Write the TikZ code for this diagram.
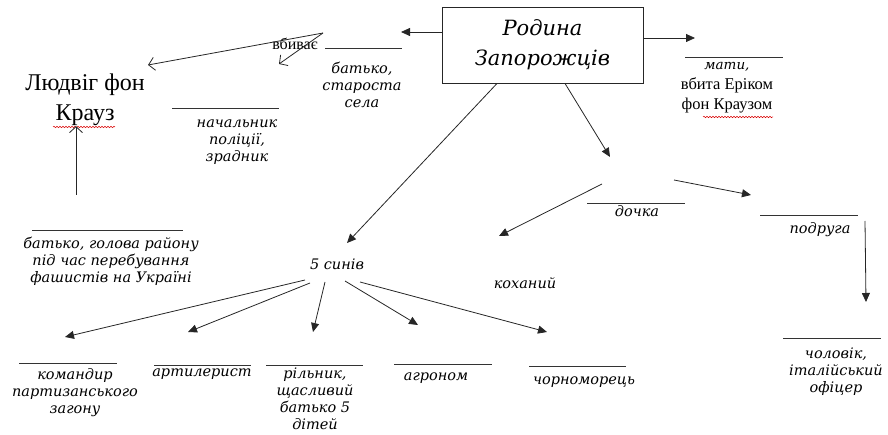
\documentclass[tikz,border=0pt]{standalone}
\usepackage{fontspec}
\setmainfont{Liberation Serif}
\newfontfamily\itfont{DejaVu Serif}[UprightFont=* Italic]
\usetikzlibrary{arrows.meta,decorations.pathmorphing}
\begin{document}
\begin{tikzpicture}[x=1pt,y=-1pt,
  conn/.style={draw=black!85,line width=0.8pt},
  tri/.style={conn,-{Triangle[length=9pt,width=8pt]}},
  barb/.style={conn,-{Straight Barb[length=6pt,width=13pt,line width=0.8pt]}},
  rule/.style={draw=black!80,line width=0.9pt},
  lab/.style={align=center,inner sep=0pt,font=\itfont\fontsize{14.5}{17}\selectfont},
  rom/.style={align=center,inner sep=0pt,font=\fontsize{16.5}{20}\selectfont},
  spell/.style={draw=red!85!black,line width=0.5pt,decorate,decoration={snake,amplitude=0.7pt,segment length=3pt}}]
\useasboundingbox (0,0) rectangle (888,435);

% main box
\node[draw=black!85,line width=0.9pt,minimum width=201pt,minimum height=76pt,align=center,
  inner sep=0pt,font=\itfont\fontsize{21}{30}\selectfont] (fam) at (542.5,45) {Родина\\Запорожців};

% father, village elder
\coordinate (fatherTip) at (401,32);
\draw[tri] ([yshift=13pt]fam.west) -- (fatherTip);
\coordinate (fr1) at (325,48); \coordinate (fr2) at (402,48);
\draw[rule] (fr1) -- (fr2);
\node[lab] (father) at (362,85) {батько,\\староста\\села};

% kills
\node[rom,font=\fontsize{16}{18}\selectfont] (kills) at (295,44) {вбиває};
\coordinate (k0) at (323,33);
\coordinate (k1) at (148,65);
\coordinate (k2) at (279,64);
\draw[barb] (k0) -- (k1);
\draw[barb] (k0) -- (k2);

% Ludwig
\node[rom,font=\fontsize{24}{30}\selectfont] (ludwig) at (85,100) {Людвіг фон\\Крауз};
\draw[spell] (53,127) -- (115,127);
\coordinate (lw0) at (76,195);
\draw[barb] (lw0) -- (ludwig.south -| lw0);

% police chief
\coordinate (pr1) at (172,108); \coordinate (pr2) at (279,108);
\draw[rule] (pr1) -- (pr2);
\node[lab] (police) at (237,142) {начальник\\поліції,\\зрадник};

% father head of district
\coordinate (hr1) at (32,230); \coordinate (hr2) at (183,230);
\draw[rule] (hr1) -- (hr2);
\node[lab] (head) at (111,261) {батько, голова району\\під час перебування\\фашистів на Україні};

% mother
\coordinate (motherTip) at (695,38);
\draw[tri] ([yshift=7pt]fam.east) -- (motherTip);
\coordinate (mr1) at (685,57); \coordinate (mr2) at (783,57);
\draw[rule] (mr1) -- (mr2);
\node[rom] (mother) at (727,88) {{\itfont\fontsize{13.5}{16}\selectfont мати,}\\вбита Еріком\\фон Краузом};
\draw[spell] (703,117) -- (773,117);

% sons
\node[lab] (sons) at (337,264) {5 синів};
\coordinate (sonsTip) at (347,243);
\draw[tri] ([xshift=-45.5pt]fam.south) -- (sonsTip);

% daughter
\coordinate (dTip) at (610,157);
\draw[tri] ([xshift=22.5pt]fam.south) -- (dTip);
\coordinate (dr1) at (587,203); \coordinate (dr2) at (685,203);
\draw[rule] (dr1) -- (dr2);
\node[lab] (daughter) at (637,211) {дочка};
\coordinate (d0) at (602,184); \coordinate (dLover) at (499,236);
\draw[tri] (d0) -- (dLover);
\coordinate (d1) at (674,180); \coordinate (dFriend) at (751,195);
\draw[tri] (d1) -- (dFriend);
\node[lab] (lover) at (525,283) {коханий};

% friend
\coordinate (fr3) at (760,215); \coordinate (fr4) at (858,215);
\draw[rule] (fr3) -- (fr4);
\node[lab] (friend) at (820,230) {подруга};
\coordinate (f0) at (865,221); \coordinate (fTip) at (866,302);
\draw[tri] (f0) -- (fTip);

% husband
\coordinate (hu1) at (783,338); \coordinate (hu2) at (881,338);
\draw[rule] (hu1) -- (hu2);
\node[lab] (husband) at (836,372) {чоловік,\\італійський\\офіцер};

% sons' arrows
\coordinate (s1) at (305,280); \coordinate (t1) at (65,337);
\coordinate (s2) at (310,283); \coordinate (t2) at (188,332);
\coordinate (s3) at (325,282); \coordinate (t3) at (313,332);
\coordinate (s4) at (345,281); \coordinate (t4) at (418,325);
\coordinate (s5) at (360,282); \coordinate (t5) at (547,332);
\draw[tri] (s1) -- (t1);
\draw[tri] (s2) -- (t2);
\draw[tri] (s3) -- (t3);
\draw[tri] (s4) -- (t4);
\draw[tri] (s5) -- (t5);

% sons' labels
\coordinate (a1) at (19,363); \coordinate (a2) at (117,363);
\draw[rule] (a1) -- (a2);
\node[lab] (cmd) at (75,393) {командир\\партизанського\\загону};
\coordinate (b1) at (154,365); \coordinate (b2) at (251,365);
\draw[rule] (b1) -- (b2);
\node[lab] (art) at (202,374) {артилерист};
\coordinate (c1) at (266,365); \coordinate (c2) at (363,365);
\draw[rule] (c1) -- (c2);
\node[lab] (farm) at (315,399) {рільник,\\щасливий\\батько 5\\дітей};
\coordinate (e1) at (394,364); \coordinate (e2) at (492,364);
\draw[rule] (e1) -- (e2);
\node[lab] (agro) at (436,378) {агроном};
\coordinate (g1) at (529,366); \coordinate (g2) at (626,366);
\draw[rule] (g1) -- (g2);
\node[lab] (sea) at (584,382) {чорноморець};
\end{tikzpicture}
\end{document}
